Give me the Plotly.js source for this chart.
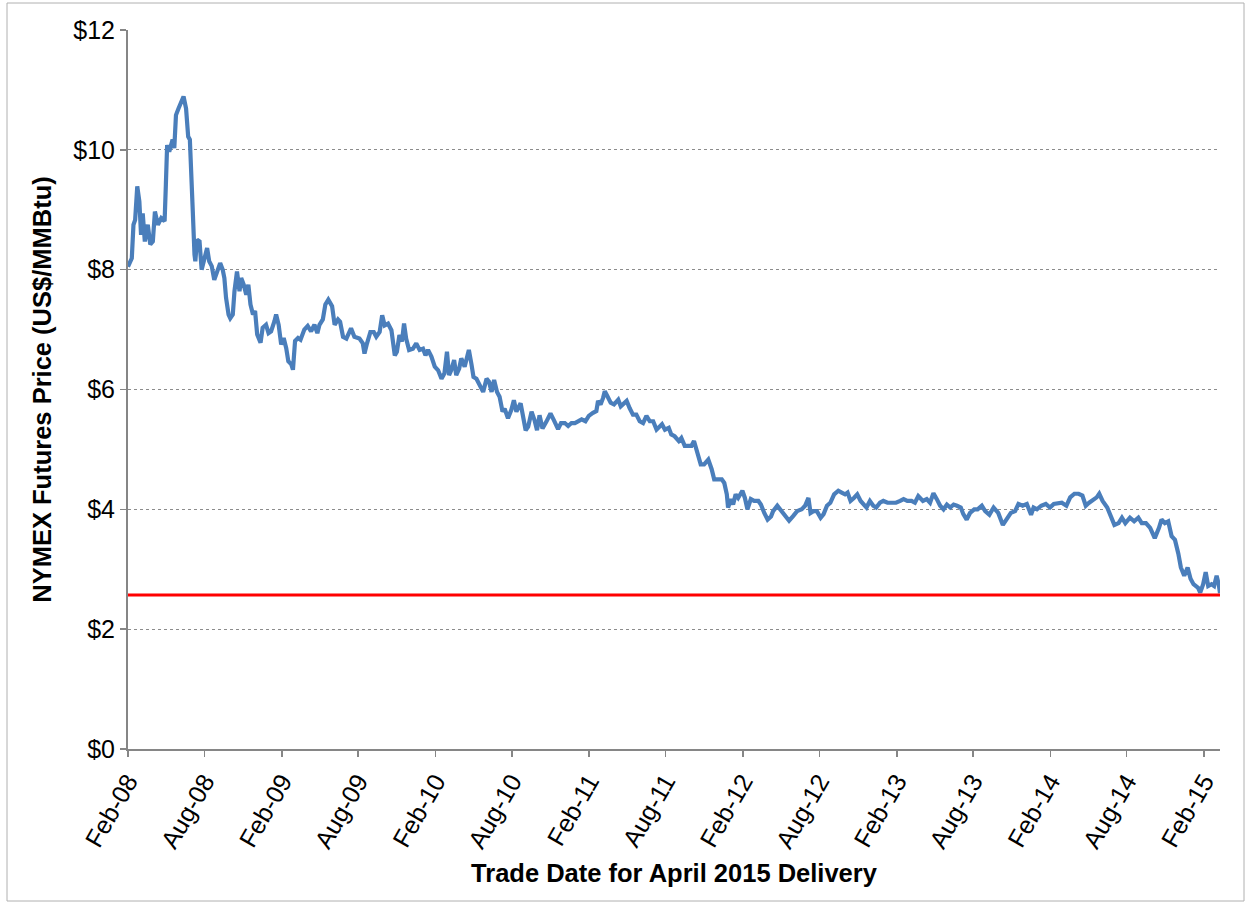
<!DOCTYPE html>
<html>
<head>
<meta charset="utf-8">
<script src="https://cdn.plot.ly/plotly-3.0.1.min.js"></script>
<style>
  html, body { margin: 0; padding: 0; background: #ffffff; }
  #chart { width: 1249px; height: 905px; }
</style>
</head>
<body>
<div id="chart"></div>
<script>
// Trade dates (NYMEX natural gas futures, April 2015 delivery contract)
const tradeDates = [
  "2008-02-01","2008-02-05","2008-02-10","2008-02-14","2008-02-18","2008-02-23","2008-02-28","2008-03-03","2008-03-07","2008-03-12",
  "2008-03-19","2008-03-25","2008-03-31","2008-04-05","2008-04-12","2008-04-20","2008-04-28","2008-05-01","2008-05-04","2008-05-09",
  "2008-05-17","2008-05-21","2008-05-25","2008-05-31","2008-06-06","2008-06-12","2008-06-18","2008-06-23","2008-06-27","2008-06-30",
  "2008-07-04","2008-07-08","2008-07-10","2008-07-14","2008-07-20","2008-07-25","2008-08-01","2008-08-07","2008-08-12","2008-08-18",
  "2008-08-24","2008-08-31","2008-09-07","2008-09-13","2008-09-17","2008-09-21","2008-09-27","2008-10-01","2008-10-07","2008-10-11",
  "2008-10-17","2008-10-23","2008-10-27","2008-11-02","2008-11-08","2008-11-13","2008-11-18","2008-11-24","2008-11-29","2008-12-04",
  "2008-12-12","2008-12-17","2008-12-25","2008-12-31","2009-01-06","2009-01-14","2009-01-18","2009-01-24","2009-01-30","2009-02-05",
  "2009-02-11","2009-02-16","2009-02-23","2009-02-27","2009-03-04","2009-03-11","2009-03-17","2009-03-26","2009-04-03","2009-04-11",
  "2009-04-19","2009-04-26","2009-05-01","2009-05-09","2009-05-15","2009-05-22","2009-05-31","2009-06-06","2009-06-14","2009-06-19",
  "2009-06-26","2009-07-04","2009-07-15","2009-07-23","2009-08-04","2009-08-12","2009-08-16","2009-08-22","2009-08-30","2009-09-07",
  "2009-09-13","2009-09-21","2009-09-27","2009-10-03","2009-10-11","2009-10-19","2009-10-27","2009-11-01","2009-11-07","2009-11-13",
  "2009-11-18","2009-11-23","2009-11-30","2009-12-09","2009-12-17","2009-12-25","2010-01-02","2010-01-08","2010-01-14","2010-01-22",
  "2010-01-30","2010-02-07","2010-02-15","2010-02-22","2010-02-28","2010-03-05","2010-03-10","2010-03-17","2010-03-22","2010-03-29",
  "2010-04-03","2010-04-11","2010-04-17","2010-04-21","2010-04-27","2010-05-02","2010-05-09","2010-05-17","2010-05-25","2010-06-02",
  "2010-06-08","2010-06-14","2010-06-20","2010-06-27","2010-07-03","2010-07-10","2010-07-15","2010-07-23","2010-07-31","2010-08-06",
  "2010-08-12","2010-08-22","2010-08-28","2010-09-03","2010-09-09","2010-09-17","2010-09-24","2010-09-30","2010-10-06","2010-10-13",
  "2010-10-22","2010-11-01","2010-11-09","2010-11-19","2010-11-26","2010-12-05","2010-12-13","2010-12-21","2010-12-29","2011-01-06",
  "2011-01-14","2011-01-23","2011-01-31","2011-02-10","2011-02-18","2011-02-22","2011-02-28","2011-03-06","2011-03-10","2011-03-16",
  "2011-03-24","2011-04-01","2011-04-11","2011-04-17","2011-04-25","2011-05-01","2011-05-08","2011-05-16","2011-05-24","2011-06-01",
  "2011-06-09","2011-06-17","2011-06-25","2011-07-03","2011-07-11","2011-07-19","2011-07-24","2011-07-31","2011-08-09","2011-08-15",
  "2011-08-23","2011-09-02","2011-09-08","2011-09-16","2011-09-24","2011-10-02","2011-10-08","2011-10-16","2011-10-24","2011-11-01",
  "2011-11-11","2011-11-19","2011-11-25","2011-12-05","2011-12-13","2011-12-19","2011-12-25","2011-12-28","2012-01-04","2012-01-09",
  "2012-01-15","2012-01-21","2012-01-31","2012-02-06","2012-02-12","2012-02-20","2012-02-28","2012-03-09","2012-03-15","2012-03-23",
  "2012-03-31","2012-04-08","2012-04-13","2012-04-23","2012-05-03","2012-05-11","2012-05-21","2012-05-31","2012-06-09","2012-06-20",
  "2012-06-28","2012-07-06","2012-07-11","2012-07-18","2012-07-26","2012-08-04","2012-08-11","2012-08-19","2012-08-27","2012-09-05",
  "2012-09-15","2012-09-23","2012-10-01","2012-10-07","2012-10-14","2012-10-22","2012-10-30","2012-11-07","2012-11-15","2012-11-21",
  "2012-11-29","2012-12-07","2012-12-14","2012-12-23","2012-12-31","2013-01-10","2013-01-20","2013-01-30","2013-02-09","2013-02-17",
  "2013-02-26","2013-03-08","2013-03-16","2013-03-24","2013-04-04","2013-04-13","2013-04-21","2013-04-29","2013-05-07","2013-05-15",
  "2013-05-23","2013-05-31","2013-06-08","2013-06-16","2013-06-24","2013-07-03","2013-07-09","2013-07-17","2013-07-25","2013-08-04",
  "2013-08-12","2013-08-22","2013-08-30","2013-09-09","2013-09-19","2013-09-30","2013-10-11","2013-10-19","2013-10-30","2013-11-09",
  "2013-11-17","2013-11-27","2013-12-07","2013-12-17","2013-12-23","2013-12-31","2014-01-10","2014-01-21","2014-01-31","2014-02-09",
  "2014-02-20","2014-02-28","2014-03-11","2014-03-20","2014-03-30","2014-04-09","2014-04-18","2014-04-26","2014-05-04","2014-05-14",
  "2014-05-22","2014-05-28","2014-06-05","2014-06-16","2014-06-24","2014-07-03","2014-07-13","2014-07-21","2014-07-29","2014-08-09",
  "2014-08-19","2014-08-29","2014-09-06","2014-09-16","2014-09-26","2014-10-07","2014-10-17","2014-10-23","2014-10-31","2014-11-08",
  "2014-11-16","2014-11-24","2014-12-02","2014-12-08","2014-12-16","2014-12-24","2014-12-31","2015-01-07","2015-01-18","2015-01-23",
  "2015-01-30","2015-02-05","2015-02-11","2015-02-19","2015-02-25","2015-03-03","2015-03-08","2015-03-11"
];

// Settlement price, US$/MMBtu
const futuresPrice = [
  8.05,8.11,8.19,8.75,8.83,9.39,9.14,8.58,8.94,8.47,
  8.75,8.42,8.47,8.97,8.75,8.86,8.81,9.42,10.08,9.97,
  10.17,10.03,10.58,10.69,10.81,10.89,10.69,10.22,10.17,9.42,
  8.97,8.25,8.14,8.50,8.47,8.00,8.19,8.36,8.14,8.06,
  7.83,8.00,8.11,8.00,7.86,7.53,7.25,7.19,7.25,7.64,
  7.97,7.64,7.86,7.75,7.58,7.75,7.42,7.25,7.31,6.92,
  6.78,7.03,7.08,6.94,6.97,7.14,7.25,7.08,6.75,6.86,
  6.69,6.47,6.42,6.33,6.81,6.86,6.83,7.00,7.06,6.97,
  7.08,6.94,7.08,7.17,7.42,7.50,7.39,7.08,7.17,7.13,
  6.88,6.85,7.02,6.88,6.85,6.77,6.60,6.77,6.96,6.96,
  6.88,6.96,7.24,7.07,7.10,6.99,6.57,6.63,6.91,6.80,
  7.10,6.85,6.66,6.68,6.77,6.66,6.68,6.57,6.66,6.55,
  6.38,6.32,6.18,6.27,6.63,6.24,6.32,6.49,6.24,6.35,
  6.52,6.38,6.55,6.66,6.43,6.21,6.18,6.07,5.96,6.18,
  6.13,5.96,6.16,5.96,5.88,5.63,5.68,5.52,5.66,5.82,
  5.63,5.77,5.57,5.32,5.38,5.63,5.49,5.32,5.57,5.35,
  5.46,5.60,5.49,5.34,5.44,5.44,5.39,5.44,5.44,5.47,
  5.50,5.47,5.56,5.61,5.64,5.81,5.75,5.86,5.97,5.89,
  5.78,5.75,5.83,5.72,5.78,5.81,5.69,5.58,5.58,5.47,
  5.44,5.56,5.47,5.47,5.33,5.39,5.42,5.33,5.36,5.25,
  5.22,5.14,5.19,5.06,5.06,5.06,5.14,4.97,4.75,4.75,
  4.83,4.67,4.50,4.50,4.50,4.44,4.25,4.03,4.17,4.08,
  4.25,4.19,4.31,4.19,4.00,4.17,4.14,4.14,4.08,3.94,
  3.83,3.88,3.97,4.06,3.97,3.89,3.81,3.89,3.97,4.00,
  4.06,4.19,3.94,3.97,3.97,3.86,3.92,4.06,4.11,4.25,
  4.31,4.28,4.25,4.28,4.14,4.19,4.25,4.14,4.08,4.03,
  4.14,4.06,4.03,4.11,4.14,4.11,4.11,4.11,4.14,4.17,
  4.14,4.14,4.11,4.22,4.14,4.17,4.11,4.27,4.17,4.06,
  4.00,4.08,4.03,4.08,4.06,4.03,3.92,3.83,3.94,4.00,
  4.00,4.06,3.97,3.91,4.03,3.94,3.74,3.83,3.94,3.97,
  4.09,4.06,4.09,3.91,4.03,4.00,4.06,4.09,4.03,4.09,
  4.11,4.11,4.06,4.20,4.26,4.26,4.23,4.06,4.11,4.17,
  4.20,4.26,4.14,4.03,3.91,3.74,3.77,3.86,3.77,3.86,
  3.80,3.86,3.77,3.77,3.69,3.52,3.69,3.83,3.77,3.80,
  3.55,3.49,3.26,3.03,2.89,3.03,2.84,2.75,2.69,2.61,
  2.75,2.95,2.72,2.75,2.72,2.89,2.75,2.60
];

// Reference level (red line) and axis span
const referencePrice = 2.57;
const axisDateSpan = ["2008-02-01", "2015-03-11"];
const yTickValues = [0, 2, 4, 6, 8, 10, 12];
const yTickLabels = ["$0", "$2", "$4", "$6", "$8", "$10", "$12"];

const W = 1249, H = 905;
const M = {l: 128, r: 29, t: 30, b: 156};
const plotW = W - M.l - M.r, plotH = H - M.t - M.b;
const px = v => (v - M.l) / plotW;
const py = v => 1 - (v - M.t) / plotH;

const traces = [
  {
    x: tradeDates, y: futuresPrice, type: "scatter", mode: "lines",
    line: {color: "#4a7ebb", width: 4.2}, hoverinfo: "skip", showlegend: false
  },
  {
    x: axisDateSpan, y: [referencePrice, referencePrice], type: "scatter", mode: "lines",
    line: {color: "#ff0000", width: 3.2}, hoverinfo: "skip", showlegend: false
  }
];

const font = {family: "Liberation Sans, Arial, sans-serif", color: "#000000"};

const layout = {
  width: W, height: H,
  margin: M,
  paper_bgcolor: "#ffffff", plot_bgcolor: "#ffffff",
  font: Object.assign({size: 25}, font),
  showlegend: false,
  xaxis: {
    type: "date",
    range: axisDateSpan,
    tick0: "2008-02-01", dtick: "M6",
    tickformat: "%b-%y",
    tickangle: -60,
    ticks: "outside", ticklen: 6, tickcolor: "#868686", tickwidth: 1.5,
    showline: true, linecolor: "#868686", linewidth: 2,
    showgrid: false, zeroline: false,
    tickfont: Object.assign({size: 25}, font),
    title: {text: "<b>Trade Date for April 2015 Delivery</b>", font: Object.assign({size: 25.5}, font), standoff: 12},
    automargin: false, fixedrange: true
  },
  yaxis: {
    range: [0, 12],
    tickvals: yTickValues, ticktext: yTickLabels,
    ticks: "outside", ticklen: 6, tickcolor: "#868686", tickwidth: 1.5,
    showline: true, linecolor: "#868686", linewidth: 2,
    showgrid: true, gridcolor: "#8c8c8c", griddash: "dot", gridwidth: 1,
    zeroline: false,
    tickfont: Object.assign({size: 25}, font),
    title: {text: "<b>NYMEX Futures Price (US$/MMBtu)</b>", font: Object.assign({size: 25.5}, font), standoff: 14},
    automargin: false, fixedrange: true
  },
  shapes: [
    {type: "rect", xref: "paper", yref: "paper",
     x0: px(7), x1: px(1244), y0: py(3), y1: py(901),
     line: {color: "#b0b0b0", width: 1}, fillcolor: "rgba(0,0,0,0)", layer: "below"}
  ]
};

Plotly.newPlot("chart", traces, layout, {displayModeBar: false, staticPlot: true});
</script>
</body>
</html>
